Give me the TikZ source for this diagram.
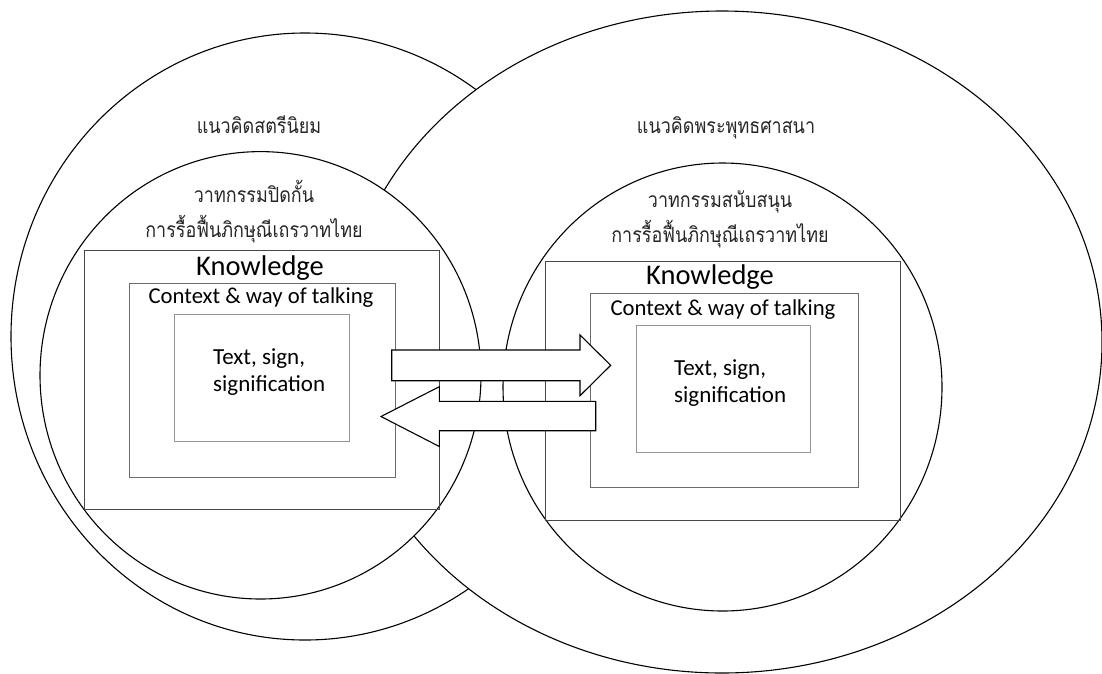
\documentclass[tikz,border=0pt]{standalone}
\usepackage{fontspec}
\setmainfont{Carlito}
\newfontfamily\thaifont[Script=Thai, FakeStretch=0.855]{Loma}
\begin{document}
\begin{tikzpicture}[x=1pt,y=-1pt,
  ring/.style={draw=black, line width=1.1pt, fill=white},
  knowbox/.style={draw=black!72, line width=1.1pt, inner sep=0pt, anchor=north west},
  ctxbox/.style={draw=black!58, line width=1pt, inner sep=0pt, anchor=north west},
  txtbox/.style={draw=black!42, line width=0.9pt, inner sep=0pt, anchor=north west},
  thaitext/.style={font=\thaifont\fontsize{21}{26}\selectfont, text=black!85,
    inner sep=0pt, text height=16pt, text depth=4pt, anchor=base},
  headtext/.style={font=\fontsize{28.5}{30}\selectfont, inner sep=0pt},
  ctxtext/.style={font=\fontsize{22.7}{26}\selectfont, inner sep=0pt},
  bodytext/.style={font=\fontsize{23}{27}\selectfont, inner sep=0pt, align=left, anchor=base west},
  blockarrow/.style={draw=black, line width=1.1pt, fill=white, line join=miter}]
\useasboundingbox (0,0) rectangle (1102,673);
\fill[white] (0,0) rectangle (1102,673);

% outer rings: feminist thought (left), Buddhist thought (right)
\draw[ring] (305,336.5) ellipse [x radius=294pt, y radius=303.5pt];
\draw[ring] (722,342) ellipse [x radius=380pt, y radius=331pt];
% inner rings: opposing and supporting discourse
\draw[ring] (260.5,375.3) ellipse [x radius=220.5pt, y radius=223.7pt];
\draw[ring] (722.5,387) ellipse [x radius=219.5pt, y radius=224pt];

% labels of the rings
\node[thaitext] (femL) at (259,133) {แนวคิดสตรีนิยม};
\node[thaitext] (budR) at (726,133) {แนวคิดพระพุทธศาสนา};
\node[thaitext] (oppA) at (254,202) {วาทกรรมปิดกั้น};
\node[thaitext] (oppB) at (254,237) {การรื้อฟื้นภิกษุณีเถรวาทไทย};
\node[thaitext] (supA) at (720,207) {วาทกรรมสนับสนุน};
\node[thaitext] (supB) at (720,242) {การรื้อฟื้นภิกษุณีเถรวาทไทย};

% nested boxes, left
\node[knowbox, minimum width=354.6pt, minimum height=259.3pt] (knowL) at (84,250) {};
\node[ctxbox, minimum width=266.4pt, minimum height=194pt] (ctxL) at (128.6,282.7) {};
\node[txtbox, minimum width=174.6pt, minimum height=127pt] (txtL) at (174,314) {};
\node[headtext] (knowLlab) at (260,268) {Knowledge};
\node[ctxtext] (ctxLlab) at (261,298) {Context \& way of talking};
\node[bodytext] (txtLlab) at (213,391) {Text, sign,\\signification};

% nested boxes, right
\node[knowbox, minimum width=355pt, minimum height=259pt] (knowR) at (545,261) {};
\node[ctxbox, minimum width=267.7pt, minimum height=193.4pt] (ctxR) at (590,293.3) {};
\node[txtbox, minimum width=173.6pt, minimum height=126.7pt] (txtR) at (636,325) {};
\node[headtext] (knowRlab) at (710,277) {Knowledge};
\node[ctxtext] (ctxRlab) at (723,310) {Context \& way of talking};
\node[bodytext] (txtRlab) at (674,402.5) {Text, sign,\\signification};

% block arrows between the two discourses
\draw[blockarrow] (391.7,350) -- (580,350) -- (580,335) -- (610.7,365.3)
  -- (580,395.7) -- (580,380.7) -- (391.7,380.7) -- cycle;
\draw[blockarrow] (595.7,401.3) -- (439.3,401.3) -- (439.3,386.7) -- (381,416.5)
  -- (439.3,446.5) -- (439.3,430.7) -- (595.7,430.7) -- cycle;
\end{tikzpicture}
\end{document}
